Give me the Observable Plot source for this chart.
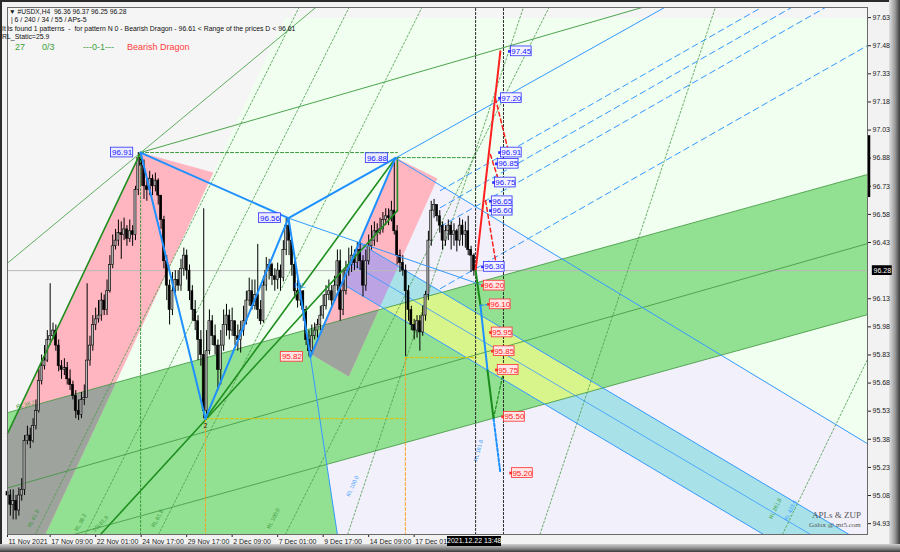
<!DOCTYPE html>
<html><head><meta charset="utf-8">
<script src="https://cdn.jsdelivr.net/npm/d3@7"></script>
<script src="https://cdn.jsdelivr.net/npm/@observablehq/plot@0.6"></script>
<style>
html,body{margin:0;padding:0;width:900px;height:552px;overflow:hidden;background:#2b2b2b;}
#panel{position:absolute;left:2px;top:2px;width:888px;height:542px;background:#f2f2f2;}
#bevelR{position:absolute;left:889px;top:0;width:11px;height:552px;background:linear-gradient(to right,#e0e0e0,#9a9a9a 55%,#3a3a3a);}
#bevelB{position:absolute;left:0;top:544px;width:900px;height:8px;background:linear-gradient(to bottom,#d0d0d0,#8a8a8a 55%,#3a3a3a);}
#chart{position:absolute;left:0;top:0;}
.ov{position:absolute;white-space:pre;font-family:"Liberation Sans",Arial,sans-serif;line-height:1;}
</style></head>
<body>
<div id="panel"></div><div id="bevelR"></div><div id="bevelB"></div>
<div id="chart"></div>
<div class="ov" style="left:9px;top:9px;font-size:6.7px;color:#111">▼ #USDX,H4  96.36 96.37 96.25 96.28</div>
<div class="ov" style="left:9px;top:17px;font-size:6.9px;color:#111"> | 6 / 240 / 34 / 55 / APs-5</div>
<div class="ov" style="left:2px;top:26px;font-size:6.9px;color:#111">It is found 1 patterns  -  for pattern N 0 - Bearish Dragon - 96.61 &lt; Range of the prices D &lt; 96.61</div>
<div class="ov" style="left:2px;top:34px;font-size:6.9px;color:#111">RL_Static=25.9</div>
<div class="ov" style="left:15px;top:43px;font-size:9px;color:#3ca03c">27</div>
<div class="ov" style="left:42px;top:43px;font-size:9px;color:#3ca03c">0/3</div>
<div class="ov" style="left:83px;top:43px;font-size:9px;color:#3ca03c">---0-1---</div>
<div class="ov" style="left:127px;top:43px;font-size:9px;color:#ff3c3c">Bearish Dragon</div>
<div class="ov" style="left:812px;top:511px;font-size:9px;color:#555;font-family:'Liberation Serif',serif">APLs &amp; ZUP</div>
<div class="ov" style="left:809px;top:522px;font-size:7px;color:#555;font-family:'Liberation Serif',serif">Galox @ mt5.com</div>
<div class="ov" style="left:447px;top:536px;width:54px;height:10px;background:#000;color:#fff;font-size:7px;text-align:center;line-height:10px">2021.12.22 13:48</div>
<script>
// ---------- data ----------
const xTickBars = [0, 15, 31, 47, 63, 79, 95, 111, 127, 143];
const xTickLabels = ["11 Nov 2021","17 Nov 09:00","22 Nov 01:00","24 Nov 17:00","29 Nov 17:00","2 Dec 09:00","7 Dec 01:00","9 Dec 17:00","14 Dec 09:00","17 Dec 01:00"];
const yTicks = [97.63,97.48,97.33,97.18,97.03,96.88,96.73,96.58,96.43,96.13,95.98,95.83,95.68,95.53,95.38,95.23,95.08,94.93];
const lastPrice = 96.28;

const closes = [
95.08,95.03,95.05,95.00,95.08,95.11,95.37,95.40,95.37,95.45,
95.53,95.69,95.77,95.80,95.91,95.93,95.96,95.88,95.77,95.75,
95.76,95.70,95.67,95.61,95.53,95.51,95.59,95.60,95.80,95.88,
95.99,96.02,96.04,96.12,96.07,96.17,96.31,96.41,96.44,96.48,
96.47,96.50,96.45,96.49,96.47,96.71,96.88,96.84,96.73,96.71,
96.77,96.73,96.76,96.68,96.55,96.33,96.20,96.07,96.17,96.23,
96.20,96.29,96.36,96.28,96.17,96.07,96.01,95.91,95.83,95.53,
95.85,96.01,95.93,95.88,95.75,95.88,95.99,96.04,95.96,96.01,
95.93,95.91,95.96,96.01,96.12,96.17,96.09,96.15,96.07,96.01,
96.20,96.28,96.31,96.25,96.23,96.28,96.24,96.39,96.52,96.44,
96.31,96.17,96.12,96.17,96.07,95.91,95.85,95.93,95.96,95.99,
96.04,96.09,96.15,96.17,96.12,96.20,96.33,96.07,96.17,96.28,
96.31,96.36,96.32,96.39,96.33,96.20,96.33,96.41,96.44,96.49,
96.48,96.50,96.55,96.57,96.56,96.60,96.49,96.36,96.32,96.28,
96.17,96.07,95.99,95.96,96.01,95.95,96.04,96.15,96.44,96.60,
96.63,96.57,96.52,96.44,96.49,96.52,96.47,96.49,96.44,96.52,
96.47,96.49,96.39,96.36,96.28];
const highs = [
95.13,95.11,95.11,95.08,95.12,95.17,95.40,95.45,95.44,95.49,
95.59,95.75,95.83,95.88,95.96,96.21,96.00,95.99,95.91,95.80,
95.81,95.79,95.75,95.69,95.64,95.59,95.63,95.67,96.21,95.93,
96.04,96.08,96.12,96.16,96.15,96.23,96.36,96.47,96.50,96.55,
96.54,96.56,96.52,96.55,96.52,96.73,96.91,96.91,96.87,96.77,
96.81,96.79,96.80,96.77,96.68,96.57,96.36,96.23,96.27,96.28,
96.28,96.34,96.40,96.39,96.31,96.20,96.12,96.04,95.96,96.61,
95.96,96.07,96.04,95.99,95.91,95.96,96.07,96.10,96.07,96.08,
96.01,95.99,96.01,96.09,96.17,96.24,96.23,96.23,96.42,96.12,
96.25,96.35,96.34,96.32,96.29,96.32,96.31,96.44,96.56,96.55,
96.45,96.33,96.23,96.20,96.17,96.09,95.96,95.99,96.00,96.02,
96.09,96.15,96.20,96.23,96.20,96.25,96.39,96.39,96.28,96.33,
96.40,96.41,96.39,96.43,96.44,96.36,96.39,96.47,96.52,96.54,
96.53,96.56,96.59,96.61,96.61,96.65,96.88,96.52,96.39,96.36,
96.31,96.20,96.09,96.02,96.04,96.04,96.09,96.17,96.49,96.65,
96.66,96.63,96.60,96.54,96.52,96.55,96.54,96.53,96.50,96.56,
96.55,96.54,96.57,96.41,96.37];
const lows = [
95.03,94.97,94.95,94.95,94.97,95.05,95.08,95.35,95.33,95.36,
95.43,95.52,95.67,95.75,95.79,95.88,95.91,95.85,95.74,95.70,
95.72,95.67,95.64,95.59,95.49,95.48,95.49,95.56,95.60,95.77,
95.85,95.96,96.00,96.01,96.04,96.04,96.16,96.29,96.39,96.41,
96.34,96.44,96.41,96.43,96.41,96.44,96.68,96.73,96.66,96.65,
96.68,96.68,96.70,96.63,96.50,96.29,96.12,95.99,96.04,96.15,
96.17,96.17,96.25,96.23,96.12,96.01,95.96,95.80,95.77,95.49,
95.51,95.83,95.88,95.83,95.64,95.67,95.85,95.93,95.91,95.93,
95.88,95.85,95.84,95.93,95.99,96.09,96.07,96.07,96.02,95.99,
96.00,96.17,96.23,96.20,96.17,96.18,96.17,96.22,96.36,96.36,
96.25,96.13,96.08,96.09,96.01,95.88,95.82,95.83,95.91,95.92,
95.96,96.02,96.07,96.12,96.09,96.11,96.17,96.01,96.04,96.15,
96.25,96.27,96.28,96.29,96.28,96.14,96.17,96.31,96.39,96.41,
96.43,96.47,96.48,96.52,96.52,96.54,96.47,96.31,96.27,96.25,
95.82,96.01,95.96,95.91,95.92,95.85,95.93,96.01,96.12,96.41,
96.56,96.54,96.48,96.39,96.41,96.44,96.39,96.41,96.38,96.41,
96.41,96.40,96.36,96.27,96.25];
const firstOpen = 95.10;

// ZUP pattern points X, A, B, C, D  (bar index, price)
const zupBars   = [46.8, 69.6, 98.8, 106.5, 136.4];
const zupPrices = [96.91, 95.49, 96.56, 95.82, 96.88];
const zupLabels = ["96.91", null, "96.56", "95.82", "96.88"];

// shaded zones (bar, price vertices)
const honeydewZone = [[97.5,97.628],[349.2,97.628],[349.2,94.52],[2.5,94.52]];
const lavenderZone = [[136.4,96.883],[349.2,94.925],[349.2,93.986],[124.9,93.986],[106.5,95.82]];
const greenChannel = [[-20,95.438],[320,96.867],[320,96.119],[-20,94.690]];
const greenLower   = [[-20,94.690],[112.26,95.246],[119.7,94.5],[-20,94.5]];
const pinkZone1    = [[46.8,96.91],[72.4,96.803],[2.5,94.519],[-27.8,94.519]];
const pinkZone2    = [[136.4,96.883],[151.2,96.771],[120.0,95.715],[106.5,95.837]];
const cyanChannel  = [[123.4,96.430],[349.2,94.391],[349.2,94.119],[117.3,96.214]];

// targets
const upTargets   = [97.45, 97.20, 96.91, 96.85, 96.75, 96.65, 96.60, 96.30];
const upTargetBar = [176.5, 173.0, 173.0, 171.9, 170.9, 169.8, 169.8, 167.0];
const dnTargets   = [96.20, 96.10, 95.95, 95.85, 95.75, 95.50, 95.20];
const dnTargetBar = [167.0, 169.1, 169.8, 170.5, 171.9, 174.1, 176.9];

// level captions along the fan / channel lines
const rlText  = ["RL 38.2","RL 61.8","RL 38.2","15L61.8","RL 61.8","RL 100.0","RL 100.0","RL 161.8","RL 261.8","RL 423.6"];
const rlBar   = [6.3, 9.1, 25.7, 32.7, 52.7, 93.5, 121.3, 165.6, 270.0, 275.3];
const rlPrice = [95.565, 94.957, 94.936, 94.93, 94.957, 94.957, 95.13, 95.32, 95.01, 95.0];
const rlAngle = [-15, -63, -63, -45, -63, -63, -65, -75, -65, -65];
const rlBlue  = [false,false,false,false,false,false,true,true,false,true];

// ---------- helpers ----------
const X0 = 0, X1 = 302.4, Y0 = 94.872, Y1 = 97.684;
const domainRect = [[X0,Y0],[X1,Y0],[X1,Y1],[X0,Y1]];
function clipPolygon(subject, clip){
  let area=0; for(let i=0;i<clip.length;i++){const a=clip[i],b=clip[(i+1)%clip.length]; area+=a[0]*b[1]-b[0]*a[1];}
  const s = area>0?1:-1;
  let out = subject.slice();
  for(let i=0;i<clip.length && out.length;i++){
    const A=clip[i], B=clip[(i+1)%clip.length];
    const side = p => s*((B[0]-A[0])*(p[1]-A[1]) - (B[1]-A[1])*(p[0]-A[0]));
    const inp = out; out=[];
    for(let j=0;j<inp.length;j++){
      const P=inp[j], Q=inp[(j+1)%inp.length];
      const sp=side(P), sq=side(Q);
      if(sp>=0) out.push(P);
      if((sp>=0)!==(sq>=0)){ const t=sp/(sp-sq); out.push([P[0]+t*(Q[0]-P[0]), P[1]+t*(Q[1]-P[1])]); }
    }
  }
  return out;
}
function clipSeg(p,q){
  let t0=0,t1=1; const dx=q[0]-p[0], dy=q[1]-p[1];
  const P=[-dx,dx,-dy,dy], Q=[p[0]-X0, X1-p[0], p[1]-Y0, Y1-p[1]];
  for(let i=0;i<4;i++){
    if(P[i]===0){ if(Q[i]<0) return null; }
    else { const r=Q[i]/P[i];
      if(P[i]<0){ if(r>t1) return null; if(r>t0) t0=r; }
      else { if(r<t0) return null; if(r<t1) t1=r; } }
  }
  return [[p[0]+t0*dx,p[1]+t0*dy],[p[0]+t1*dx,p[1]+t1*dy]];
}
const marks = [];
function zone(pts, fill, ...others){
  let c = clipPolygon(pts, domainRect);
  for(const o of others) c = clipPolygon(c, o);
  if(c.length>2) marks.push(Plot.line(c,{x:d=>d[0],y:d=>d[1],fill,stroke:"none",curve:"linear-closed"}));
}
function seg(p,q,stroke,width=1,dash=null){
  const c = clipSeg(p,q); if(!c) return;
  marks.push(Plot.line(c,{x:d=>d[0],y:d=>d[1],stroke,strokeWidth:width,strokeDasharray:dash}));
}
const P = i => [zupBars[i], zupPrices[i]];

// ---------- background zones ----------
marks.push(Plot.frame({fill:"#f5f5f5"}));
zone(honeydewZone, "#f0fff0");
zone(lavenderZone, "#f2f0fa");
zone(greenChannel, "#92e092");
zone(greenLower, "#92e092");
zone(pinkZone1, "#ffb6c1");
zone(pinkZone2, "#ffb6c1");
zone(cyanChannel, "#a8e2e8");
zone(pinkZone1, "#9ea39e", greenChannel);
zone(pinkZone1, "#9ea39e", greenLower);
zone(pinkZone2, "#9ea39e", greenChannel);
zone(pinkZone2, "#bca4e4", cyanChannel);
zone(cyanChannel, "#d8f58c", greenChannel);

// ---------- reference lines under candles ----------
seg([X0,lastPrice],[X1,lastPrice],"#b8b8b8",1);
const fibBottom = [9.8, 27.4, 53.1, 97.7, 119.6, 187.2, 272.5];
const fibTop    = [102.5,120.1,145.7,190.4,181.4,248.9,362.5];
fibBottom.forEach((b,i)=>seg([b,Y0],[fibTop[i],Y1],"#4a9a4a",0.8,"2,2"));
seg([-20,95.438],[320,96.867],"#3c943c",0.8);
seg([-20,94.690],[320,96.119],"#3c943c",0.8);
seg([-20,95.034],[320,96.50],"#3c943c",0.8);
seg([123.4,96.430],[349.2,94.391],"#3399ff",1);
seg([117.3,96.214],[349.2,94.119],"#3399ff",1);
seg([120.3,96.323],[349.2,94.274],"#3399ff",0.8);
const dashStartP = [96.707, 96.616, 96.515, 96.184];
const dashEnd = [[265.1,97.684],[275.7,97.684],[287.6,97.684],[302.4,97.481]];
dashStartP.forEach((p,i)=>seg([152.2,p],dashEnd[i],"#3399ff",1,"6,4"));
marks.push(Plot.text(rlText.map((t,i)=>({t,b:rlBar[i],p:rlPrice[i],a:rlAngle[i],blue:rlBlue[i]})),
  {x:"b",y:"p",text:"t",rotate:"a",fill:d=>d.blue?"#3399ff":"#3c9a3c",fontSize:5.5}));

// ---------- candles ----------
const candles = closes.map((c,i)=>{const o=i?closes[i-1]:firstOpen; return {i,open:o,close:c,high:Math.max(highs[i],o,c),low:Math.min(lows[i],o,c)};});
marks.push(Plot.ruleX(candles,{x:"i",y1:"low",y2:"high",stroke:"#000",strokeWidth:1}));
marks.push(Plot.rect(candles,{x1:d=>d.i-0.36,x2:d=>d.i+0.36,y1:"open",y2:"close",fill:d=>d.close>=d.open?"#b8b8b8":"#000",stroke:"#000",strokeWidth:0.6}));

// ---------- pattern lines ----------
seg(P(0),[-20,94.77],"#1f8f1f",1.6);
seg([0,96.32],[120,97.83],"#3a9a3a",0.8);
seg(P(0),[240,97.758],"#3a9a3a",0.9);
seg(P(1),P(4),"#1f8f1f",1.6);
seg([32.7,94.872],[137.1,96.600],"#1f8f1f",1.6);
seg([137.1,96.883],[137.1,96.600],"#1f8f1f",1.6);
seg([zupBars[0],zupPrices[0]],[zupBars[0],Y0],"#3a9a3a",1,"2,2");
seg([zupBars[1],zupPrices[1]],[zupBars[1],Y0],"#ffa020",1,"3,2");
seg([139.9,95.816],[139.9,Y0],"#ffa020",1,"3,2");
seg([zupBars[0],96.91],[137.1,96.91],"#3a9a3a",1,"3,2");
seg([137.1,96.883],[164.6,96.883],"#3a9a3a",1,"3,2");
seg([zupBars[1],zupPrices[1]],[139.9,zupPrices[1]],"#e0c000",1,"3,2");
seg([139.9,95.816],[164.6,95.816],"#e0c000",1,"3,2");
seg([164.6,Y0],[164.6,Y1],"#222",1,"2,2");
seg([174.4,Y0],[174.4,Y1],"#222",1,"2,2");
seg(P(4),[240,97.76],"#3399ff",1);
seg(P(2),[166.3,96.206],"#3399ff",1);
seg(P(3),[116.0,94.872],"#3399ff",1);
seg(P(4),[320,95.195],"#3399ff",1);
[[0,1],[1,2],[2,3],[3,4],[0,2],[2,4]].forEach(([a,b])=>seg(P(a),P(b),"#1e90ff",2));

// ---------- target fan ----------
seg([164.6,96.28],[173.3,97.45],"#ff2020",2);
seg([171.6,97.198],[175.8,96.937],"#ff2020",1.5,"4,3");
seg([169.8,96.90],[172.3,96.78],"#ff2020",1.5,"4,3");
seg([168.1,96.654],[171.6,96.334],"#ff2020",1.5,"4,3");
seg([164.6,96.28],[166.3,96.094],"#1a8a1a",2);
seg([166.3,96.094],[168.8,95.747],"#1e90ff",2);
seg([168.8,95.747],[170.9,95.491],"#1a8a1a",2);
seg([170.9,95.491],[173.3,95.202],"#1e90ff",2,"3,2");
seg([170.9,95.491],[174.1,95.72],"#1a8a1a",1.2,"3,2");
seg([166.3,96.094],[169.1,96.10],"#1e90ff",1.2,"3,2");

const upL = upTargets.map((p,i)=>({bar:upTargetBar[i],p}));
const dnL = dnTargets.map((p,i)=>({bar:dnTargetBar[i],p}));
marks.push(Plot.rect(upL,{x1:d=>d.bar+0.5,x2:d=>d.bar+7.8,y1:d=>d.p-0.026,y2:d=>d.p+0.026,fill:"#f4f4ff",stroke:"#3030ff",strokeWidth:0.8}));
marks.push(Plot.dot(upL,{x:"bar",y:"p",r:1.5,fill:"#3030ff",symbol:"square"}));
marks.push(Plot.text(upL,{x:d=>d.bar+4.15,y:"p",text:d=>d.p.toFixed(2),fill:"#2020ff",fontSize:8}));
marks.push(Plot.rect(dnL,{x1:d=>d.bar+0.5,x2:d=>d.bar+7.8,y1:d=>d.p-0.026,y2:d=>d.p+0.026,fill:"#ffe6e6",stroke:"#ff3030",strokeWidth:0.8}));
marks.push(Plot.dot(dnL,{x:"bar",y:"p",r:1.5,fill:"#ff3030",symbol:"square"}));
marks.push(Plot.text(dnL,{x:d=>d.bar+4.15,y:"p",text:d=>d.p.toFixed(2),fill:"#ff2020",fontSize:8}));

const zl = zupBars.map((b,i)=>({b,p:zupPrices[i],t:zupLabels[i],red:i===3})).filter(d=>d.t);
marks.push(Plot.rect(zl,{x1:d=>d.b-10.4,x2:d=>d.b-2.6,y1:d=>d.p-0.026,y2:d=>d.p+0.026,fill:d=>d.red?"#ffe6e6":"#ececff",stroke:d=>d.red?"#ff3030":"#3030ff",strokeWidth:0.8}));
marks.push(Plot.text(zl,{x:d=>d.b-6.5,y:"p",text:"t",fill:d=>d.red?"#ff2020":"#2020ff",fontSize:8}));
marks.push(Plot.text([{b:zupBars[1],p:zupPrices[1]}],{x:"b",y:"p",text:()=>"2",dy:7,fontSize:7,fill:"#222"}));
marks.push(Plot.text([{b:102.9,p:96.20}],{x:"b",y:"p",text:()=>"ML",fontSize:8,fill:"#3399ff"}));

// right axis current price box and range bar
marks.push(Plot.rect([lastPrice],{x1:()=>X1+1.7,x2:()=>X1+8.7,y1:d=>d-0.026,y2:d=>d+0.026,fill:"#000"}));
marks.push(Plot.text([lastPrice],{x:()=>X1+5.2,y:d=>d,text:d=>d.toFixed(2),fill:"#fff",fontSize:7}));
marks.push(Plot.ruleX([X1],{y1:()=>96.67,y2:()=>97.0,stroke:"#000",strokeWidth:2.5,dx:1.5}));
marks.push(Plot.frame({stroke:"#6a6a6a"}));

const chart = Plot.plot({
  width:900, height:552,
  marginLeft:7, marginRight:33, marginTop:7, marginBottom:18,
  style:{background:"transparent",fontFamily:"Liberation Sans, Arial, sans-serif",fontSize:"7px",color:"#222"},
  x:{domain:[X0,X1], ticks:xTickBars, tickFormat:d=>xTickLabels[xTickBars.indexOf(d)], tickSize:3, tickPadding:2, label:null},
  y:{domain:[Y0,Y1], axis:"right", ticks:yTicks, tickFormat:d=>d.toFixed(2), tickSize:3, tickPadding:2, label:null},
  marks
});
chart.querySelectorAll('g[aria-label^="x-axis"] text').forEach(t=>{t.setAttribute("text-anchor","start");t.setAttribute("dx","1");t.style.fontSize="7px";});
chart.querySelectorAll('g[aria-label^="y-axis"] text').forEach(t=>{t.style.fontSize="7px";});
document.getElementById("chart").appendChild(chart);
</script>
</body></html>
